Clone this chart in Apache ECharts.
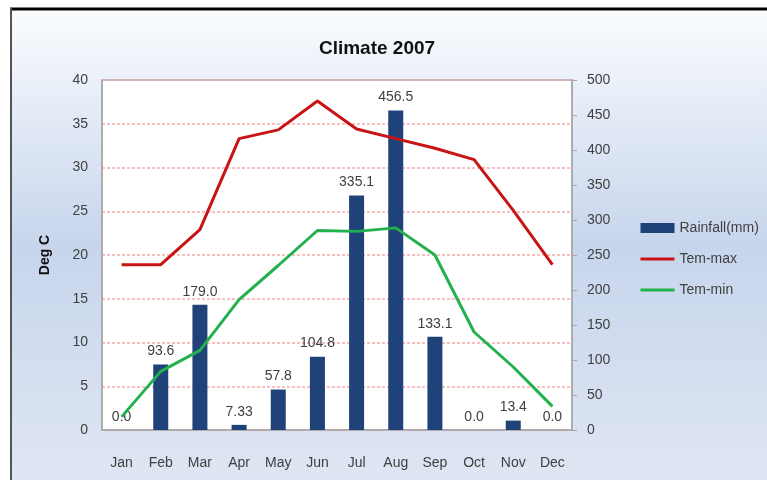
<!DOCTYPE html>
<html>
<head>
<meta charset="utf-8">
<script src="https://cdn.jsdelivr.net/npm/echarts@6/dist/echarts.min.js"></script>
<style>
  html, body { margin: 0; padding: 0; background: #fff; }
  #chart { width: 767px; height: 480px; }
</style>
</head>
<body>
<div id="chart"></div>
<script>
// data
const months = ['Jan', 'Feb', 'Mar', 'Apr', 'May', 'Jun', 'Jul', 'Aug', 'Sep', 'Oct', 'Nov', 'Dec']
const rainfall = [0.0, 93.6, 179.0, 7.33, 57.8, 104.8, 335.1, 456.5, 133.1, 0.0, 13.4, 0.0]
const temMax = [18.9, 18.9, 22.9, 33.3, 34.3, 37.6, 34.4, 33.3, 32.2, 30.9, 25.1, 18.9]
const temMin = [1.5, 6.7, 9.1, 14.9, 18.8, 22.8, 22.7, 23.1, 20.0, 11.2, 7.2, 2.7]
const leftTicks = { min: 0, max: 40, interval: 5 }
const rightTicks = { min: 0, max: 500, interval: 50 }

const labelFont = 'Liberation Sans'
const textColor = '#404040'

// keep one decimal like the source, but show 7.33 as is
function rainLabel(p) {
  const v = p.value
  return Math.abs(v * 10 - Math.round(v * 10)) < 1e-9 ? v.toFixed(1) : String(v)
}

var myChart = echarts.init(document.getElementById('chart'))
var option = {
  animation: false,
  backgroundColor: '#fff',
  graphic: [
    {
      type: 'rect',
      z: -10,
      shape: { x: 12, y: 10, width: 755, height: 470 },
      style: {
        fill: new echarts.graphic.LinearGradient(0, 0, 0, 1, [
          { offset: 0, color: '#fafcfe' },
          { offset: 0.5, color: '#c7d5ec' },
          { offset: 1, color: '#dfe6f3' }
        ])
      }
    },
    { type: 'line', z: -5, shape: { x1: 10, y1: 9, x2: 767, y2: 9 }, style: { stroke: '#000', lineWidth: 3 } },
    { type: 'line', z: -5, shape: { x1: 11, y1: 8, x2: 11, y2: 480 }, style: { stroke: '#555', lineWidth: 2 } }
  ],
  title: {
    text: 'Climate 2007',
    left: 372,
    top: 34,
    textAlign: 'center',
    textStyle: { fontFamily: labelFont, fontWeight: 'bold', fontSize: 19, color: '#111' }
  },
  grid: {
    left: 102,
    right: 195,
    top: 80,
    bottom: 50,
    show: true,
    backgroundColor: '#fff',
    borderColor: '#a8a8a8',
    borderWidth: 1.5
  },
  legend: {
    orient: 'vertical',
    left: 634,
    top: 216,
    itemWidth: 34,
    itemHeight: 10,
    itemGap: 17,
    textStyle: { fontFamily: labelFont, fontSize: 14, color: textColor },
    data: [
      { name: 'Rainfall(mm)', icon: 'rect' },
      { name: 'Tem-max', itemStyle: { opacity: 0 }, lineStyle: { width: 3 } },
      { name: 'Tem-min', itemStyle: { opacity: 0 }, lineStyle: { width: 3 } }
    ]
  },
  xAxis: {
    type: 'category',
    data: months,
    axisLine: { lineStyle: { color: '#a8a8a8', width: 1.5 } },
    axisTick: { show: false },
    axisLabel: { margin: 26, fontFamily: labelFont, fontSize: 14, color: textColor }
  },
  yAxis: [
    {
      type: 'value',
      min: leftTicks.min,
      max: leftTicks.max,
      interval: leftTicks.interval,
      name: 'Deg C',
      nameLocation: 'middle',
      nameGap: 50,
      nameTextStyle: { fontFamily: labelFont, fontWeight: 'bold', fontSize: 14, color: '#111' },
      axisLine: { show: true, lineStyle: { color: '#a8a8a8', width: 1.5 } },
      axisTick: { show: false },
      axisLabel: { margin: 14, fontFamily: labelFont, fontSize: 14, color: textColor },
      splitLine: { lineStyle: { color: '#f5aaaa', type: [3, 2], width: 1.5 } }
    },
    {
      type: 'value',
      min: rightTicks.min,
      max: rightTicks.max,
      interval: rightTicks.interval,
      axisLine: { show: true, lineStyle: { color: '#a8a8a8', width: 1.5 } },
      axisTick: { show: true, length: 5, lineStyle: { color: '#a8a8a8' } },
      axisLabel: { margin: 15, fontFamily: labelFont, fontSize: 14, color: textColor },
      splitLine: { show: false }
    }
  ],
  series: [
    {
      name: 'Rainfall(mm)',
      type: 'bar',
      yAxisIndex: 1,
      data: rainfall,
      barWidth: 15,
      itemStyle: { color: '#1f4379' },
      label: {
        show: true,
        position: 'top',
        distance: 6,
        formatter: rainLabel,
        fontFamily: labelFont,
        fontSize: 14,
        color: textColor
      }
    },
    {
      name: 'Tem-max',
      type: 'line',
      yAxisIndex: 0,
      data: temMax,
      symbol: 'none',
      lineStyle: { color: '#c81414', width: 3 },
      itemStyle: { color: '#c81414' }
    },
    {
      name: 'Tem-min',
      type: 'line',
      yAxisIndex: 0,
      data: temMin,
      symbol: 'none',
      lineStyle: { color: '#22b14c', width: 3 },
      itemStyle: { color: '#22b14c' }
    }
  ]
}
myChart.setOption(option)
</script>
</body>
</html>
